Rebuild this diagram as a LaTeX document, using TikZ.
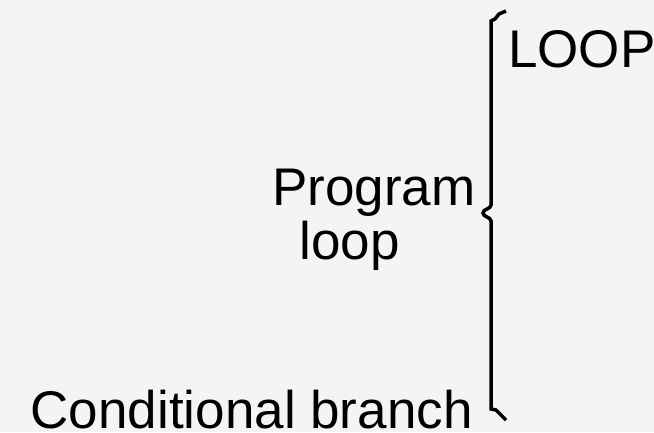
\documentclass[tikz,border=0pt]{standalone}
\usepackage{fontspec}
\setmainfont{Liberation Sans}
\definecolor{bg}{HTML}{F4F4F4}
\tikzset{
  lbl/.style={inner sep=0pt, anchor=base west, font=\fontsize{53}{54}\selectfont, text=black},
  bracepath/.style={line width=3.5pt, draw=black, line join=miter, line cap=butt}
}
\begin{document}
\begin{tikzpicture}[x=1pt,y=-1pt]
\fill[bg] (0,0) rectangle (654,432);
\useasboundingbox (0,0) rectangle (654,432);
\node[lbl] (loopT) at (508,67) {LOOP};
\node[lbl] (prog) at (272,205) {Program};
\node[lbl] (progloop) at (299.5,259) {loop};
\node[lbl] (cond) at (30.5,428.5) {Conditional branch};
\coordinate (btop) at (506,11);
\coordinate (bbot) at (506,420);
\draw[bracepath] (btop) -- (499,14) -- (495,19) -- (491,21) -- (491,205)
  .. controls (491,209) and (483,209) .. (483,213)
  .. controls (483,217) and (491,217) .. (491,221)
  -- (491,409) -- (496,410) -- (bbot);
\end{tikzpicture}
\end{document}
